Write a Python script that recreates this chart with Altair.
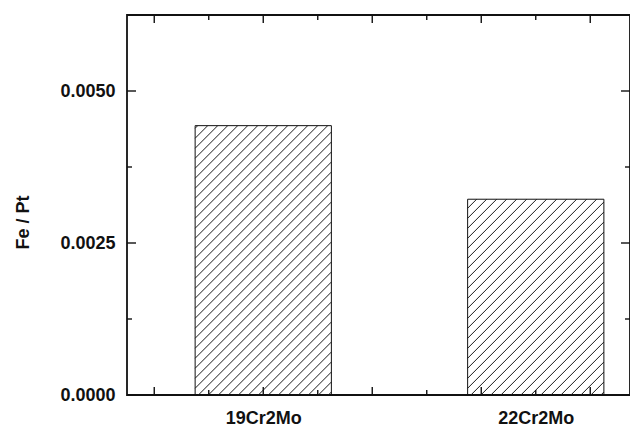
import altair as alt
import pandas as pd

# ---- data ----
categories = ["19Cr2Mo", "22Cr2Mo"]
positions = [1, 2]
fe_pt = [0.00443, 0.00322]
y_major = [0.0, 0.0025, 0.005]
y_minor = [0.00125, 0.00375]
x_major = [0.6, 1.0, 1.4, 1.8, 2.2]
x_minor = [0.8, 1.2, 1.6, 2.0]

# ---- layout constants ----
W, H = 503, 380
PX_PER_X = 272.5
X_MIN = 0.5
X_MAX = X_MIN + W / PX_PER_X
Y_MAX = 0.00625
PX_PER_Y = H / Y_MAX
BAR_HALF = 0.25
HATCH_STEP = 10.0  # horizontal px spacing of hatch lines
FONT = "Liberation Sans"

xscale = alt.Scale(domain=[X_MIN, X_MAX], nice=False, zero=False)
yscale = alt.Scale(domain=[0, Y_MAX], nice=False, zero=False)

bars = pd.DataFrame({
    "cat": categories,
    "x0": [p - BAR_HALF for p in positions],
    "x1": [p + BAR_HALF for p in positions],
    "y0": [0.0] * len(positions),
    "y1": fe_pt,
})

# hatch segments ("/" at 45 degrees in screen space), derived from bar extents
segs = []
for p, v in zip(positions, fe_pt):
    bw = 2 * BAR_HALF * PX_PER_X
    bh = v * PX_PER_Y
    left = p - BAR_HALF
    k = -bw + 3.0
    while k < bh:
        xs = max(0.0, -k)
        xe = min(bw, bh - k)
        if xe > xs:
            segs.append({
                "x": left + xs / PX_PER_X, "y": (xs + k) / PX_PER_Y,
                "x2": left + xe / PX_PER_X, "y2": (xe + k) / PX_PER_Y,
            })
        k += HATCH_STEP
hatch = pd.DataFrame(segs)

label_expr = " : ".join(
    f"datum.value == {p} ? '{c}'" for p, c in zip(positions[:-1], categories[:-1])
) + f" : '{categories[-1]}'"

x_axis = alt.Axis(values=positions, labelExpr=label_expr, title=None,
                  labelFontSize=18, labelFont=FONT, labelFontWeight="bold",
                  labelPadding=14, labelBaseline="top", labelColor="#111",
                  domain=False, ticks=False, grid=False)
y_axis = alt.Axis(values=y_major, format=".4f", title="Fe / Pt",
                  labelFontSize=18, labelFont=FONT, labelFontWeight="bold",
                  labelPadding=12, labelColor="#111",
                  titleFontSize=18, titleFont=FONT, titleFontWeight="bold",
                  titleColor="#111", titleAngle=270, titleX=-104, titleY=207,
                  titleBaseline="middle", titleAlign="center",
                  domain=False, ticks=False, grid=False)

bar_layer = alt.Chart(bars).mark_rect(fill="transparent", stroke="#111", strokeWidth=1).encode(
    x=alt.X("x0:Q", scale=xscale, axis=x_axis),
    x2="x1:Q",
    y=alt.Y("y0:Q", scale=yscale, axis=y_axis),
    y2="y1:Q",
)

hatch_layer = alt.Chart(hatch).mark_rule(color="#1a1a1a", strokeWidth=1).encode(
    x=alt.X("x:Q", scale=xscale),
    y=alt.Y("y:Q", scale=yscale),
    x2="x2:Q",
    y2="y2:Q",
)


def yticks(vals, length):
    df = pd.DataFrame({"v": vals})
    base = alt.Chart(df).mark_rule(color="#111", strokeWidth=1.4)
    left = base.encode(y=alt.Y("v:Q", scale=yscale),
                       x=alt.value(0), x2=alt.value(length))
    right = base.encode(y=alt.Y("v:Q", scale=yscale),
                        x=alt.value(W), x2=alt.value(W - length))
    return [left, right]


def xticks(vals, length):
    df = pd.DataFrame({"v": vals})
    base = alt.Chart(df).mark_rule(color="#111", strokeWidth=1.4)
    top = base.encode(x=alt.X("v:Q", scale=xscale),
                      y=alt.value(0), y2=alt.value(length))
    bottom = base.encode(x=alt.X("v:Q", scale=xscale),
                         y=alt.value(H), y2=alt.value(H - length))
    return [top, bottom]


layers = [bar_layer, hatch_layer] + yticks(y_major, 9) + yticks(y_minor, 5) \
    + xticks(x_major, 8) + xticks(x_minor, 5)

chart = alt.layer(*layers).properties(
    width=W, height=H,
    autosize=alt.AutoSizeParams(type="none"),
    padding={"left": 119, "top": 7, "right": 0, "bottom": 34},
    background="white",
).configure_view(
    stroke="#111", strokeWidth=1.8
)

chart.save("out.html", embed_options={"renderer": "svg", "actions": False})
